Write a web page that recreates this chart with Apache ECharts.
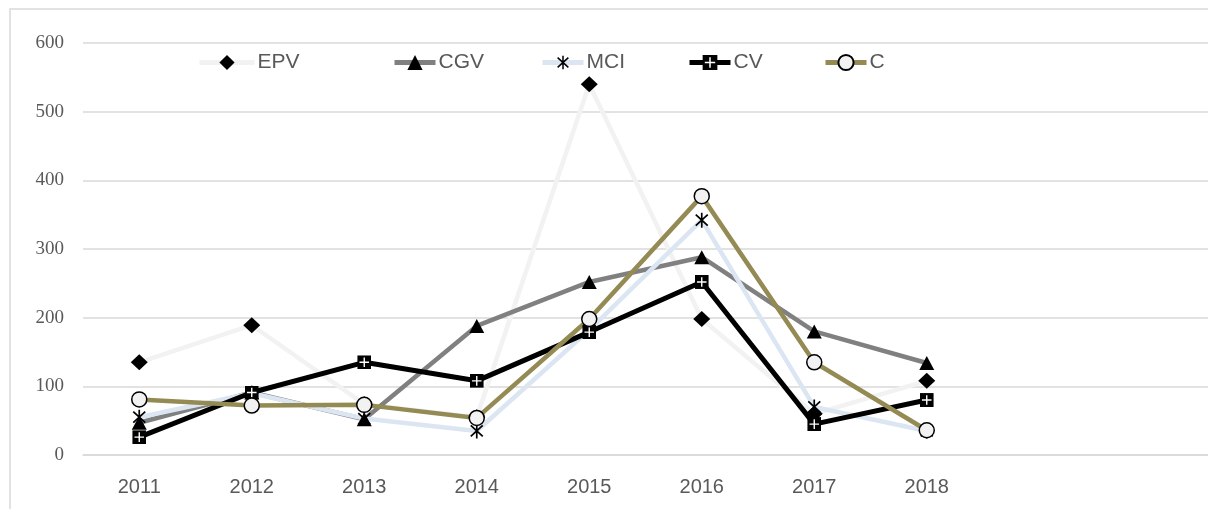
<!DOCTYPE html>
<html>
<head>
<meta charset="utf-8">
<script src="https://cdn.jsdelivr.net/npm/echarts@6/dist/echarts.min.js"></script>
<style>
  html, body { margin: 0; padding: 0; background: #fff; }
  #chart { width: 1208px; height: 509px; }
</style>
</head>
<body>
<div id="chart"></div>
<script>
// categories (two empty slots at the end, as in the source chart)
const years = ["2011", "2012", "2013", "2014", "2015", "2016", "2017", "2018", "", ""];

// series values
const epv = [135, 189, 74, 55, 540, 198, 60, 108];
const cgv = [47, 91, 52, 188, 252, 288, 180, 134];
const mci = [55, 90, 53, 35, 182, 342, 70, 35];
const cv = [26, 91, 135, 108, 179, 252, 45, 80];
const c = [81, 72, 73, 54, 198, 377, 135, 36];

const seriesNames = ["EPV", "CGV", "MCI", "CV", "C"];
const yTicks = { min: 0, max: 600, interval: 100 };

// svg markers
function svgIcon(svg) {
  return "image://data:image/svg+xml;charset=utf-8," + encodeURIComponent(svg);
}
const cvSymbol = svgIcon(
  "<svg xmlns='http://www.w3.org/2000/svg' width='28' height='28' viewBox='0 0 14 14'>" +
    "<rect width='14' height='14' fill='#000'/>" +
    "<path d='M7 2.2V11.8M2.2 7H11.8' stroke='#fff' stroke-width='1.4'/></svg>"
);
const mciSymbol = svgIcon(
  "<svg xmlns='http://www.w3.org/2000/svg' width='34' height='34' viewBox='0 0 17 17'>" +
    "<path d='M8.5 1V16M2.5 3L14.5 14M14.5 3L2.5 14' stroke='#000' stroke-width='1.7' fill='none'/></svg>"
);

const chart = echarts.init(document.getElementById("chart"));

function lineSeries(name, data, color, symbol, size, extra) {
  return Object.assign(
    {
      name: name,
      type: "line",
      data: data,
      symbol: symbol,
      symbolSize: size,
      showAllSymbol: true,
      lineStyle: { color: color, width: 4.5 },
      itemStyle: { color: "#000", borderWidth: 0 },
      emphasis: { disabled: true },
    },
    extra || {}
  );
}

// one legend block per item so the uneven spacing of the source can be kept
const legendLeft = [197, 392, 540, 687, 823];
const legends = seriesNames.map((name, i) => ({
  left: legendLeft[i],
  top: 52,
  padding: 0,
  itemWidth: i === 0 ? 55 : 41,
  itemHeight: 19,
  itemGap: 0,
  lineStyle: { width: 5 },
  textStyle: {
    fontFamily: "Liberation Sans",
    fontSize: 21,
    color: "#595959",
    padding: [0, 0, 0, -2],
  },
  data: [name],
}));

const option = {
  animation: false,
  backgroundColor: "#fff",
  graphic: [
    {
      type: "rect",
      shape: { x: 10, y: 9, width: 1230, height: 540 },
      style: { fill: "none", stroke: "#d9d9d9", lineWidth: 1.5 },
      silent: true,
    },
  ],
  grid: { left: 83, right: -8, top: 43, bottom: 54, containLabel: false },
  legend: legends,
  xAxis: {
    type: "category",
    data: years,
    boundaryGap: true,
    axisLine: { show: true, lineStyle: { color: "#d9d9d9", width: 1.5 } },
    axisTick: { show: false },
    axisLabel: {
      margin: 22,
      fontFamily: "Liberation Sans",
      fontSize: 20,
      color: "#595959",
      interval: 0,
    },
    splitLine: { show: false },
  },
  yAxis: {
    type: "value",
    min: yTicks.min,
    max: yTicks.max,
    interval: yTicks.interval,
    axisLine: { show: false },
    axisTick: { show: false },
    axisLabel: {
      margin: 19,
      fontFamily: "Liberation Serif",
      fontSize: 19,
      color: "#595959",
    },
    splitLine: { lineStyle: { color: "#d9d9d9", width: 1.5 } },
  },
  series: [
    lineSeries("EPV", epv, "#f2f2f2", "diamond", [17, 16]),
    lineSeries("CGV", cgv, "#808080", "triangle", [15, 14]),
    lineSeries("MCI", mci, "#dce6f2", mciSymbol, 17),
    lineSeries("CV", cv, "#000000", cvSymbol, 14, { lineStyle: { color: "#000", width: 5 } }),
    lineSeries("C", c, "#948a54", "circle", 15, {
      itemStyle: { color: "#f2f2f2", borderColor: "#000", borderWidth: 1.5 },
    }),
  ],
};

chart.setOption(option);
</script>
</body>
</html>
